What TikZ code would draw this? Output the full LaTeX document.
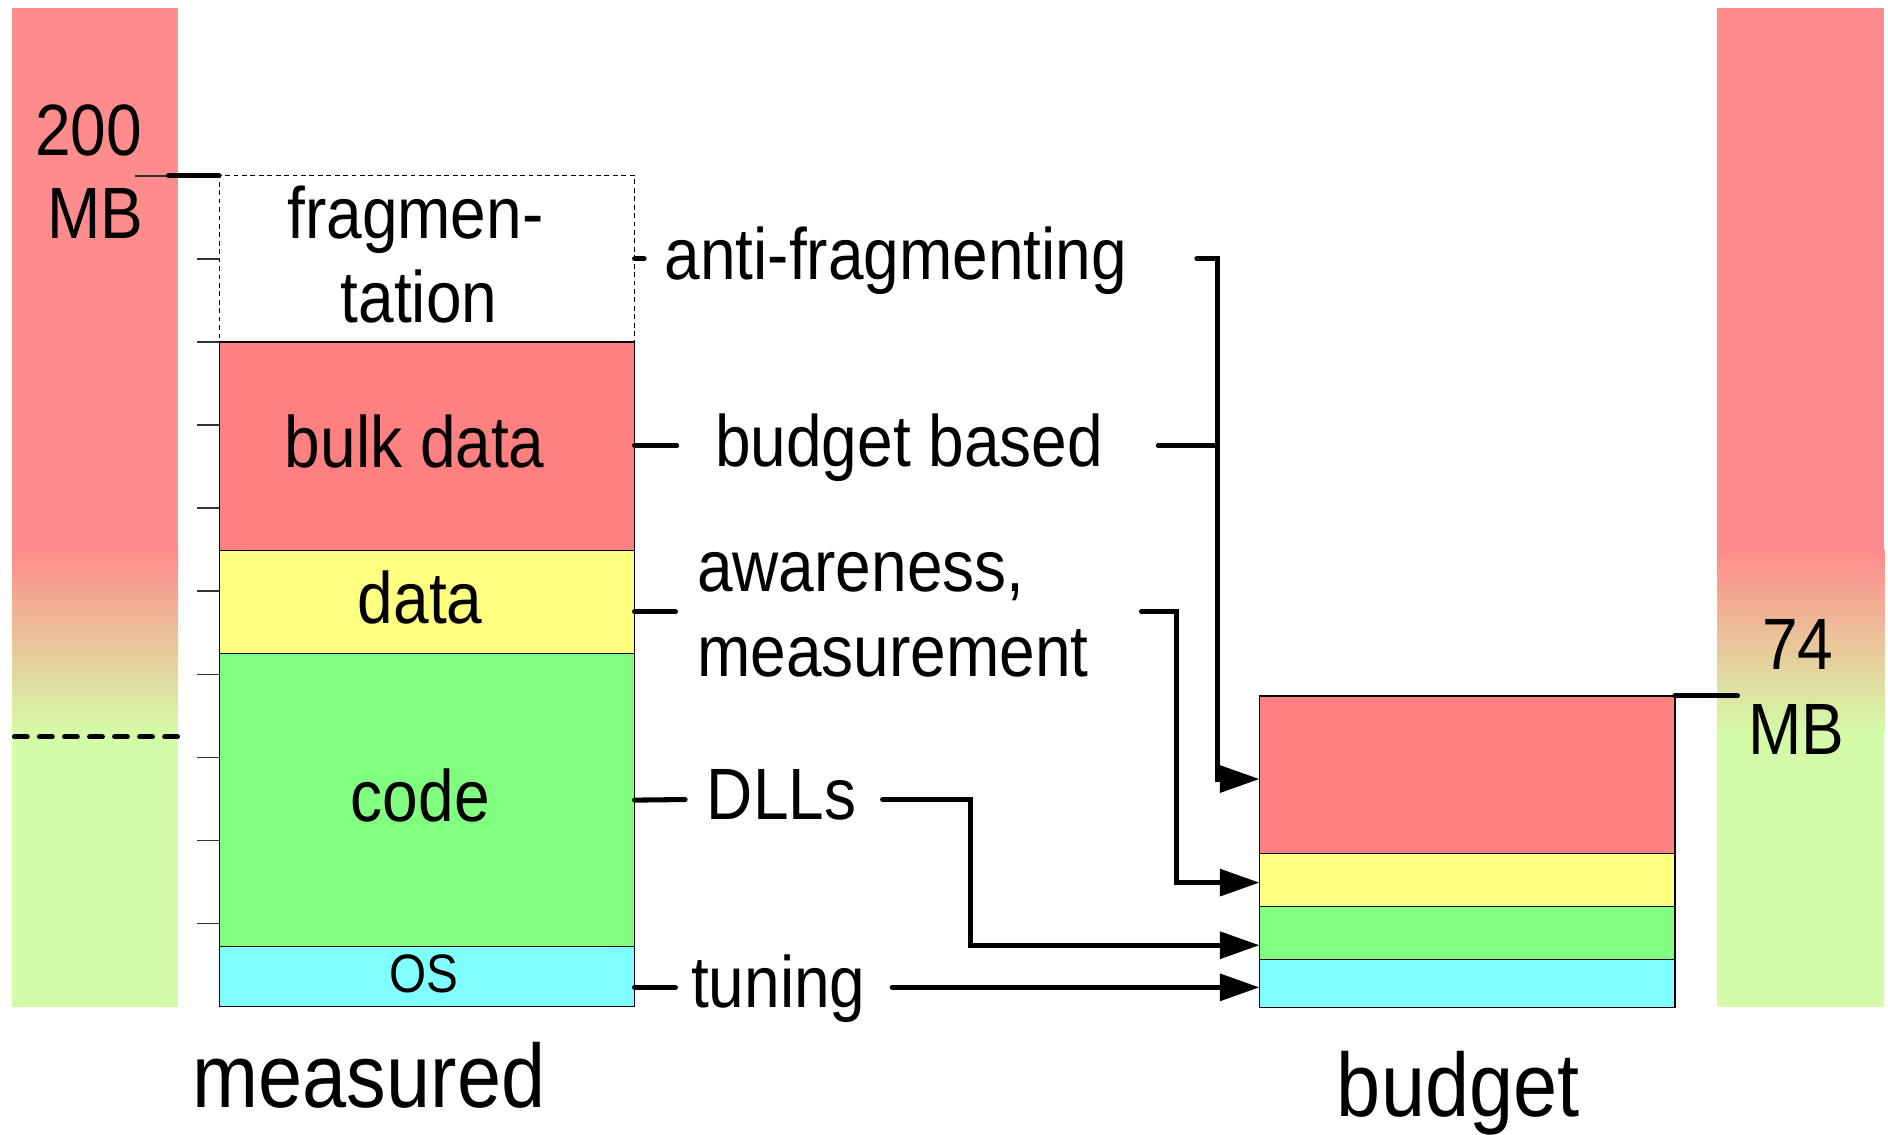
\documentclass[tikz,border=0pt]{standalone}
\usepackage{fontspec}
\setmainfont{Liberation Sans}[FakeStretch=0.88]
\usetikzlibrary{arrows.meta,fit}
\definecolor{barpink}{HTML}{FF8C8C}
\definecolor{bargreen}{HTML}{D4FCA8}
\definecolor{memred}{HTML}{FF8080}
\definecolor{memyellow}{HTML}{FFFF80}
\definecolor{memgreen}{HTML}{80FF80}
\definecolor{memcyan}{HTML}{80FFFF}
\begin{document}
\begin{tikzpicture}[x=0.5pt,y=-0.5pt,
  lbl/.style={inner sep=0pt, outer sep=0pt, font=\fontsize{30.2}{36}\selectfont},
  biglbl/.style={inner sep=0pt, outer sep=0pt, font=\fontsize{37.4}{44}\selectfont},
  box/.style={draw=black, line width=0.5pt, inner sep=0pt, outer sep=0pt},
  conn/.style={line width=2.1pt, line cap=round},
  arr/.style={-{Triangle[length=16.5pt,width=11pt]}},
  tickmark/.style={line width=0.6pt, draw=black!80}]
\useasboundingbox (0,0) rectangle (1568,942);
% scale bars
\fill[barpink] (10,7) rectangle (148,457);
\shade[top color=barpink, bottom color=bargreen] (10,456.5) rectangle (148,609);
\fill[bargreen] (10,608.5) rectangle (148,836);
\fill[barpink] (1426,7) rectangle (1565,457);
\shade[top color=barpink, bottom color=bargreen] (1426,456.5) rectangle (1565,609);
\fill[bargreen] (1426,608.5) rectangle (1565,836);
\draw[line width=2.1pt, line cap=round, dash pattern=on 5.3pt off 5.1pt] (12,612) -- (148,612);
% measured stack
\node[box, draw=black, dash pattern=on 2pt off 1.5pt, fill=white, fit={(182,146)(527,284)}] (frag) {};
\node[box, fill=memred, fit={(182,284)(527,457)}] (bulk) {};
\node[box, fill=memyellow, fit={(182,457)(527,543)}] (data) {};
\node[box, fill=memgreen, fit={(182,543)(527,786)}] (code) {};
\node[box, fill=memcyan, fit={(182,786)(527,836)}] (os) {};
% budget stack
\node[box, fill=memred, fit={(1046,578)(1391,709)}] (bred) {};
\node[box, fill=memyellow, fit={(1046,709)(1391,753)}] (byel) {};
\node[box, fill=memgreen, fit={(1046,753)(1391,797)}] (bgrn) {};
\node[box, fill=memcyan, fit={(1046,797)(1391,837)}] (bcyn) {};
% ticks
\foreach \yy in {215,284,353,422,491,560,629,698,767}
  \draw[tickmark] (164,\yy) -- (182,\yy);
\coordinate (t200a) at (112,146);
\coordinate (t200b) at (140,146);
\draw[tickmark] (t200a) -- (t200b);
\draw[conn] (t200b) -- (frag.north west);
\coordinate (t74) at (1443,578);
\draw[conn] (bred.north east) -- (t74);
% scale labels
\node[lbl, anchor=base east] (l200) at (118,129) {200};
\node[lbl, anchor=base east] (lmb1) at (119,198) {MB};
\node[lbl, anchor=base] (l74) at (1493,556) {74};
\node[lbl, anchor=base] (lmb2) at (1492,627) {MB};
% box labels
\node[lbl, anchor=base] (fragA) at (345,198) {fragmen-};
\node[lbl, anchor=base] (fragB) at (348,267.5) {tation};
\node[lbl, anchor=base] (lbulk) at (344.5,388) {bulk data};
\node[lbl, anchor=base] (ldata) at (349,517.6) {data};
\node[lbl, anchor=base] (lcode) at (349,682.5) {code};
\node[lbl, anchor=base, font=\fontsize{22.5}{26}\selectfont] (los) at (352,824.6) {OS};
\node[biglbl, anchor=base] (lmeas) at (306.5,920) {measured};
\node[biglbl, anchor=base] (lbudg) at (1211,927.6) {budget};
% measure labels
\node[lbl, anchor=base west] (anti) at (552,232.5) {anti-fragmenting};
\node[lbl, anchor=base west] (bb) at (594,387.6) {budget based};
\node[lbl, anchor=base west] (aw1) at (579,491.6) {awareness,};
\node[lbl, anchor=base west] (aw2) at (579,562) {measurement};
\node[lbl, anchor=base west] (dlls) at (587,681) {DLLs};
\node[lbl, anchor=base west] (tun) at (574,837) {tuning};
% stubs at measured stack
\coordinate (s1) at (535,215);
\coordinate (s2a) at (527,370); \coordinate (s2) at (562,370);
\coordinate (s3a) at (527,508); \coordinate (s3) at (561,508);
\coordinate (s4) at (569,664);
\coordinate (s5a) at (527,820); \coordinate (s5) at (561,820);
\draw[conn] (frag.east) -- (s1);
\draw[conn] (s2a) -- (s2);
\draw[conn] (s3a) -- (s3);
\draw[conn] (code.east) -- (s4);
\draw[conn] (s5a) -- (s5);
% connectors to budget
\coordinate (r1) at (994,215);
\coordinate (r2) at (962,370);
\coordinate (r3) at (948,508);
\coordinate (r4) at (733,664);
\coordinate (r5) at (741,820);
\draw[conn] (r2) -- (1011,370);
\draw[conn, arr] (r1) -| (1011,647) -- (1011,647 -| bred.west);
\draw[conn, arr] (r3) -| (977,733) -- (977,733 -| byel.west);
\draw[conn, arr] (r4) -| (806,785) -- (806,785 -| bgrn.west);
\draw[conn, arr] (r5) -- (r5 -| bcyn.west);
\end{tikzpicture}
\end{document}
